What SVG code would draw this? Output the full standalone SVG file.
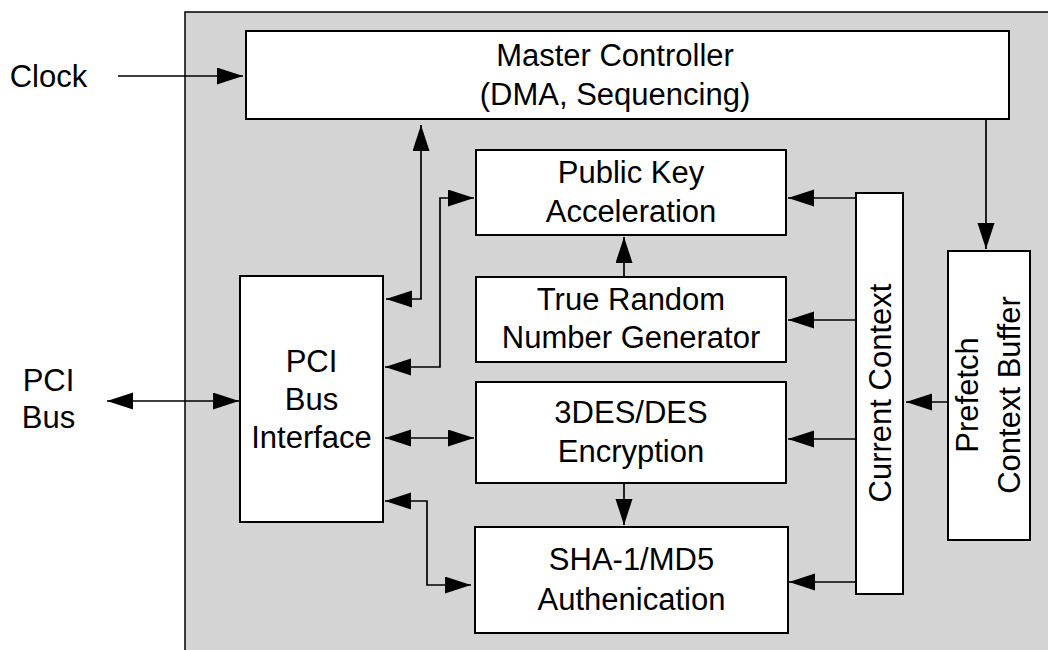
<svg xmlns="http://www.w3.org/2000/svg" width="1048" height="650" viewBox="0 0 1048 650">
<style>
.box{fill:#fff;stroke:#000;stroke-width:2}
.t{font-family:"Liberation Sans",Arial,sans-serif;font-size:31px;fill:#000;text-anchor:middle}
.c{fill:none;stroke:#000;stroke-width:1.7}
.a{marker-end:url(#ah)}
.d{marker-start:url(#ah);marker-end:url(#ah)}
</style>
<defs>
<marker id="ah" markerUnits="userSpaceOnUse" markerWidth="27" markerHeight="18" refX="26" refY="8.5" orient="auto-start-reverse">
<path d="M0,0 L26,8.5 L0,17 z" fill="#000"/>
</marker>
</defs>
<rect x="185" y="12" width="900" height="700" fill="#d4d4d4" stroke="#000" stroke-width="1.5"/>
<g id="clock-label"><text class="t" x="48.5" y="87">Clock</text></g>
<g id="pci-bus-label"><text class="t" x="48.5" y="391">PCI</text><text class="t" x="48.5" y="428">Bus</text></g>
<g id="master-controller"><rect class="box" x="246" y="31" width="763" height="88"/><text class="t" x="615" y="66">Master Controller</text><text class="t" x="615" y="105">(DMA, Sequencing)</text></g>
<g id="pci-bus-interface"><rect class="box" x="240" y="276" width="143" height="246"/><text class="t" x="311.5" y="372">PCI</text><text class="t" x="311.5" y="410">Bus</text><text class="t" x="311.5" y="448">Interface</text></g>
<g id="public-key"><rect class="box" x="476" y="150" width="310" height="85"/><text class="t" x="631" y="183">Public Key</text><text class="t" x="631" y="222">Acceleration</text></g>
<g id="trng"><rect class="box" x="476" y="277" width="310" height="85"/><text class="t" x="631" y="310">True Random</text><text class="t" x="631" y="348">Number Generator</text></g>
<g id="des"><rect class="box" x="476" y="382" width="310" height="101"/><text class="t" x="631" y="423">3DES/DES</text><text class="t" x="631" y="462">Encryption</text></g>
<g id="sha"><rect class="box" x="475" y="527" width="313" height="106"/><text class="t" x="631.5" y="570">SHA-1/MD5</text><text class="t" x="631.5" y="610">Authenication</text></g>
<g id="current-context"><rect class="box" x="856" y="193" width="47" height="401"/><text class="t" transform="translate(891,393) rotate(-90)">Current Context</text></g>
<g id="prefetch-buffer"><rect class="box" x="948" y="251" width="82" height="289"/><text class="t" transform="translate(978,395) rotate(-90)">Prefetch</text><text class="t" transform="translate(1020,395) rotate(-90)">Context Buffer</text></g>
<g id="connectors">
<path class="c a" d="M118,76 H243"/>
<path class="c d" d="M107,401 H239"/>
<path class="c d" d="M421,125 V299 H386"/>
<path class="c d" d="M385,367 H440 V198 H474"/>
<path class="c d" d="M385,438 H474"/>
<path class="c d" d="M385,501 H427 V585 H471"/>
<path class="c a" d="M624,277 V237"/>
<path class="c a" d="M624,483 V525"/>
<path class="c a" d="M986,119 V249"/>
<path class="c a" d="M948,402 H906"/>
<path class="c a" d="M856,198 H788"/>
<path class="c a" d="M856,320 H788"/>
<path class="c a" d="M856,439 H788"/>
<path class="c a" d="M856,582 H789"/>
</g>
</svg>
